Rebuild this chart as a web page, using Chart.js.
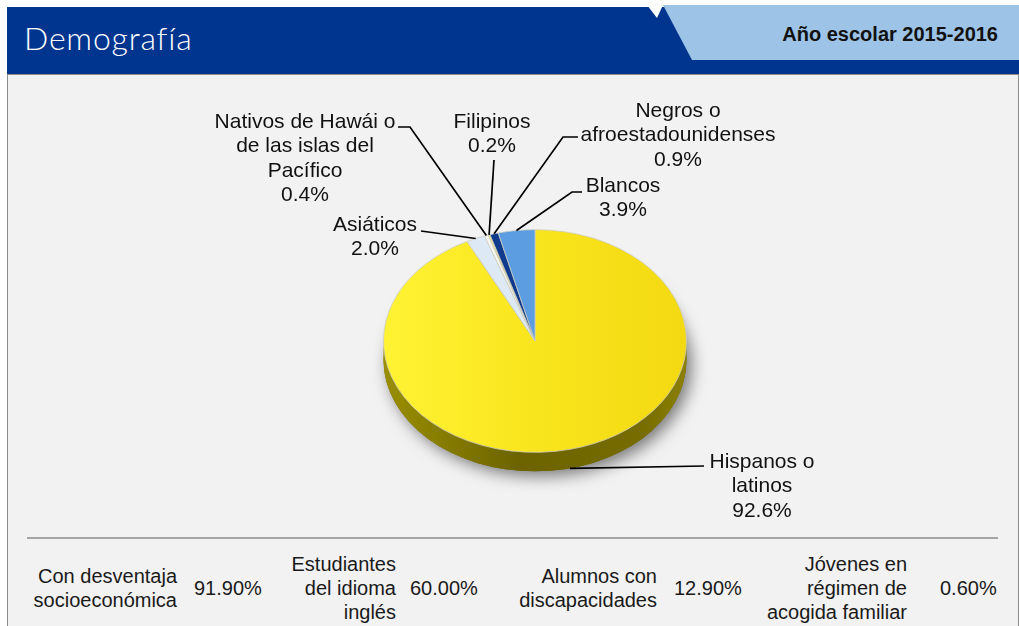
<!DOCTYPE html>
<html>
<head>
<meta charset="utf-8">
<title>Demografía</title>
<script src="https://cdn.jsdelivr.net/npm/chart.js@4.4.0/dist/chart.umd.min.js"></script>
<style>
  html, body { margin: 0; padding: 0; background: #fff; }
  #page { position: relative; width: 1019px; height: 626px; overflow: hidden;
          font-family: "Liberation Sans", Arial, Helvetica, sans-serif; color: #1a1a1a; }
  #head { position: absolute; left: 0; top: 0; }
  #title { position: absolute; left: 24px; top: 20px; color: #fff; font-family: Lato, "Open Sans", sans-serif;
           font-weight: 300; font-size: 32px; letter-spacing: 0.8px; line-height: 36px; }
  #year { position: absolute; right: 21px; top: 22px; font-weight: bold; font-size: 20px; line-height: 24px; color: #111; }
  #panel { position: absolute; left: 7px; top: 74px; width: 1010px; height: 560px; background: #f2f2f2;
           border: 1px solid #8c8c8c; }
  #sep { position: absolute; left: 27px; top: 537px; width: 971px; height: 2px; background: #a5a5a5; }
  .cell { position: absolute; font-size: 20px; line-height: 24px; text-align: right; white-space: nowrap; }
  .val { position: absolute; font-size: 20px; line-height: 24px; white-space: nowrap; }
  #chart { position: absolute; left: 0; top: 0; pointer-events: none; }
</style>
</head>
<body>
<div id="page">
  <svg id="head" width="1019" height="75">
    <rect x="7" y="7" width="1012" height="67" fill="#00358f"/>
    <polygon points="663,5 1019,5 1019,60 692,60" fill="#9dc3e6"/>
    <polygon points="647,5 663,5 657,18" fill="#ffffff"/>
  </svg>
  <div id="title">Demografía</div>
  <div id="year">Año escolar 2015-2016</div>
  <div id="panel"></div>
  <div id="sep"></div>
  <div id="stats"></div>
  <canvas id="chart" width="1019" height="626"></canvas>
</div>
<script>
// pie data
const categories = ['Hispanos o latinos', 'Asiáticos', 'Nativos de Hawái o de las islas del Pacífico',
                    'Filipinos', 'Negros o afroestadounidenses', 'Blancos'];
const percentages = [92.6, 2.0, 0.4, 0.2, 0.9, 3.9];
const labelLines = [['Hispanos o', 'latinos'], ['Asiáticos'], ['Nativos de Hawái o', 'de las islas del', 'Pacífico'],
                    ['Filipinos'], ['Negros o', 'afroestadounidenses'], ['Blancos']];

// table under the pie
const statNames = [['Con desventaja', 'socioeconómica'], ['Estudiantes', 'del idioma', 'inglés'],
                   ['Alumnos con', 'discapacidades'], ['Jóvenes en', 'régimen de', 'acogida familiar']];
const statValues = [91.90, 60.00, 12.90, 0.60];

// styles / layout
const sliceColors = ['#f8e41b', '#dde9f4', '#f7f7f0', '#efe38a', '#0f3a8d', '#5c9de2'];
const sideColors = ['#7a7000', '#a9b4c0', '#b8b8b0', '#a69e5c', '#08224f', '#3a6a9c'];
const SQUASH = 0.735, DEPTH = 19;
const labelPos = [
  { x: 762, y: 462, from: [704, 466] },
  { x: 375, y: 225, from: [421, 231] },
  { x: 305, y: 122, from: [398, 127], elbow: [410, 127] },
  { x: 492, y: 122, from: [494, 160] },
  { x: 678, y: 111, from: [578, 137], elbow: [563, 137] },
  { x: 623, y: 186, from: [582, 192], elbow: [572, 192] }
];
const statLayout = [
  { right: 177, valLeft: 194 },
  { right: 396, valLeft: 410 },
  { right: 657, valLeft: 674 },
  { right: 907, valLeft: 940 }
];

// build the table
const stats = document.getElementById('stats');
statNames.forEach(function(lines, i) {
  const c = document.createElement('div');
  c.className = 'cell';
  c.innerHTML = lines.join('<br>');
  c.style.right = (1019 - statLayout[i].right) + 'px';
  c.style.top = (588 - lines.length * 12) + 'px';
  stats.appendChild(c);
  const v = document.createElement('div');
  v.className = 'val';
  v.textContent = statValues[i].toFixed(2) + '%';
  v.style.left = statLayout[i].valLeft + 'px';
  v.style.top = '576px';
  stats.appendChild(v);
});

// 3d look: shadow + side wall, then squash the top face
const pie3d = {
  id: 'pie3d',
  beforeDatasetsDraw(chart) {
    const ctx = chart.ctx;
    const arcs = chart.getDatasetMeta(0).data;
    const cx = arcs[0].x, cy = arcs[0].y, r = arcs[0].outerRadius, ry = r * SQUASH;

    ctx.save();
    ctx.shadowColor = 'rgba(0,0,0,0.5)';
    ctx.shadowBlur = 16;
    ctx.shadowOffsetX = 5;
    ctx.shadowOffsetY = 5;
    ctx.fillStyle = '#6e6500';
    ctx.beginPath();
    ctx.ellipse(cx, cy + DEPTH, r, ry, 0, 0, Math.PI * 2);
    ctx.fill();
    ctx.restore();

    arcs.forEach(function(arc, i) {
      for (let k = -1; k <= 2; k++) {
        const s = Math.max(arc.startAngle, 2 * Math.PI * k);
        const e = Math.min(arc.endAngle, 2 * Math.PI * k + Math.PI);
        if (e <= s) continue;
        let fill = sideColors[i];
        if (i === 0) {
          fill = ctx.createLinearGradient(cx - r, 0, cx + r, 0);
          fill.addColorStop(0, '#9a8f00');
          fill.addColorStop(0.45, '#6c6300');
          fill.addColorStop(0.85, '#766c00');
          fill.addColorStop(1, '#8c8000');
        }
        ctx.beginPath();
        ctx.ellipse(cx, cy, r, ry, 0, s, e, false);
        ctx.lineTo(cx + r * Math.cos(e), cy + DEPTH + ry * Math.sin(e));
        ctx.ellipse(cx, cy + DEPTH, r, ry, 0, e, s, true);
        ctx.closePath();
        ctx.fillStyle = fill;
        ctx.fill();
      }
    });

    ctx.save();
    ctx.translate(cx, cy);
    ctx.scale(1, SQUASH);
    ctx.translate(-cx, -cy);
  },
  afterDatasetsDraw(chart) {
    const ctx = chart.ctx;
    ctx.restore();
    const arcs = chart.getDatasetMeta(0).data;
    ctx.save();
    ctx.font = '21px "Liberation Sans", Arial, sans-serif';
    ctx.fillStyle = '#111';
    ctx.textAlign = 'center';
    ctx.textBaseline = 'middle';
    ctx.strokeStyle = '#000';
    ctx.lineWidth = 1.7;
    arcs.forEach(function(arc, i) {
      const p = labelPos[i];
      const mid = (arc.startAngle + arc.endAngle) / 2;
      const ax = arc.x + arc.outerRadius * Math.cos(mid);
      const ay = arc.y + arc.outerRadius * SQUASH * Math.sin(mid) + (Math.sin(mid) > 0 ? DEPTH : 0);
      ctx.beginPath();
      ctx.moveTo(p.from[0], p.from[1]);
      if (p.elbow) ctx.lineTo(p.elbow[0], p.elbow[1]);
      ctx.lineTo(ax, ay);
      ctx.stroke();
      const lines = labelLines[i].concat([percentages[i].toFixed(1) + '%']);
      lines.forEach(function(t, j) { ctx.fillText(t, p.x, p.y + j * 24.4); });
    });
    ctx.restore();
  }
};

new Chart(document.getElementById('chart'), {
  type: 'pie',
  data: {
    labels: categories,
    datasets: [{
      data: percentages,
      backgroundColor: function(c) {
        const a = c.chart.chartArea;
        if (c.dataIndex !== 0 || !a) return sliceColors[c.dataIndex];
        const g = c.chart.ctx.createLinearGradient(a.left, 0, a.right, 0);
        g.addColorStop(0, '#fff334');
        g.addColorStop(0.5, '#f9e51d');
        g.addColorStop(1, '#f3d912');
        return g;
      },
      borderColor: 'rgba(205,205,195,0.9)',
      borderWidth: 1,
      hoverOffset: 0
    }]
  },
  options: {
    responsive: false,
    animation: false,
    events: [],
    devicePixelRatio: 1,
    layout: { padding: { left: 383, right: 332, top: 189, bottom: 133 } },
    plugins: { legend: { display: false }, tooltip: { enabled: false } }
  },
  plugins: [pie3d]
});
</script>
</body>
</html>
